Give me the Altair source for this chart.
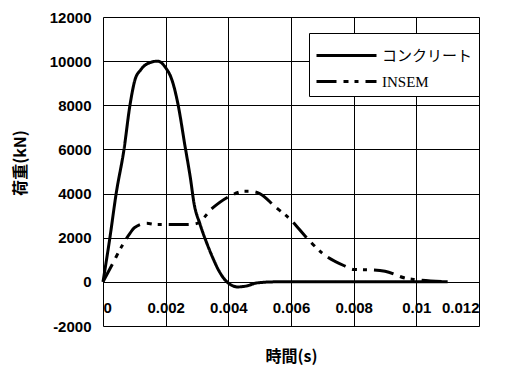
import altair as alt
import pandas as pd

series_names = ["コンクリート", "INSEM"]

t_concrete = [0, 0.00022, 0.00042, 0.00067, 0.00086, 0.00102, 0.0012, 0.0014, 0.00175, 0.002, 0.0022,
              0.0024, 0.0026, 0.0028, 0.0029, 0.0031, 0.0033, 0.0035, 0.0037, 0.0039,
              0.0041, 0.0043, 0.0046, 0.0049, 0.0055, 0.007, 0.009, 0.011]
concrete = [0, 2000, 4000, 6000, 8000, 9150, 9600, 9870, 10000, 9700, 9150,
            8000, 6300, 4600, 3600, 2600, 1800, 1100, 500, 80,
            -150, -230, -180, -50, 0, 0, 0, 0]

t_insem = [0, 0.00032, 0.00057, 0.00086, 0.001, 0.0014, 0.0017, 0.002, 0.0027, 0.003,
           0.0035, 0.004, 0.0045, 0.0047, 0.005, 0.0055, 0.006, 0.0065, 0.007, 0.0077,
           0.008, 0.0086, 0.009, 0.0097, 0.01, 0.011]
insem = [0, 860, 1540, 2200, 2450, 2650, 2600, 2600, 2600, 2650,
         3350, 3850, 4100, 4100, 4000, 3400, 2800, 2000, 1300, 730,
         560, 540, 480, 150, 100, 0]

x_ticks = [0, 0.002, 0.004, 0.006, 0.008, 0.01, 0.012]
y_ticks = [-2000, 0, 2000, 4000, 6000, 8000, 10000, 12000]

rows = []
for i, (t, v) in enumerate(zip(t_concrete, concrete)):
    rows.append({"t": t, "v": v, "series": series_names[0], "o": i})
for i, (t, v) in enumerate(zip(t_insem, insem)):
    rows.append({"t": t, "v": v, "series": series_names[1], "o": i})
df = pd.DataFrame(rows)

W, H = 376, 309
zero_offset = -(H * 2000 / 14000)

chart = alt.Chart(df).mark_line(color="black", strokeWidth=3, interpolate="monotone").encode(
    x=alt.X("t:Q",
            scale=alt.Scale(domain=[0, 0.012], nice=False),
            axis=alt.Axis(values=x_ticks, format=".3~f", title="時間(s)",
                          grid=True, gridColor="black", gridWidth=1, gridOpacity=1,
                          domain=False, ticks=False, offset=zero_offset,
                          labelPadding=19, labelFont="Liberation Sans", labelFontSize=15,
                          labelFontWeight="bold", labelColor="black",
                          titleFont="Noto Sans CJK JP", titleFontSize=16, titleFontWeight="bold",
                          titleColor="black", titleX=W / 2, titleY=75, titleBaseline="middle")),
    y=alt.Y("v:Q",
            scale=alt.Scale(domain=[-2000, 12000], nice=False),
            axis=alt.Axis(values=y_ticks, labelExpr="'' + datum.value", title="荷重(kN)",
                          grid=True, gridColor="black", gridWidth=1, gridOpacity=1,
                          domain=False, ticks=False, labelPadding=12,
                          labelFont="Liberation Sans", labelFontSize=15, labelFontWeight="bold",
                          labelColor="black",
                          titleFont="Noto Sans CJK JP", titleFontSize=16, titleFontWeight="bold",
                          titleColor="black", titleX=-83, titleY=H / 2 - 9, titleBaseline="middle",
                          titleAngle=270)),
    strokeDash=alt.StrokeDash("series:N",
                              scale=alt.Scale(domain=series_names,
                                              range=[[1, 0], [20, 7, 5, 6, 4, 7]]),
                              sort=series_names,
                              legend=alt.Legend(title=None, orient="none", legendX=206, legendY=16,
                                                symbolType="M-1,0H3", symbolSize=900,
                                                symbolStrokeWidth=3, symbolStrokeColor="black",
                                                symbolFillColor="transparent",
                                                labelFont="Liberation Serif, Noto Sans CJK JP",
                                                labelFontSize=15, labelColor="black",
                                                labelOffset=34, labelLimit=200,
                                                rowPadding=1, padding=6,
                                                strokeColor="black", fillColor="white")),
    order="o:Q",
).properties(
    width=W, height=H,
    autosize=alt.AutoSizeParams(type="none"),
    padding={"left": 95, "top": 9, "right": 20, "bottom": 40},
).configure_view(stroke="black", strokeWidth=1.5).configure(background="white")

chart.save("out.html", embed_options={"renderer": "svg", "actions": False})
